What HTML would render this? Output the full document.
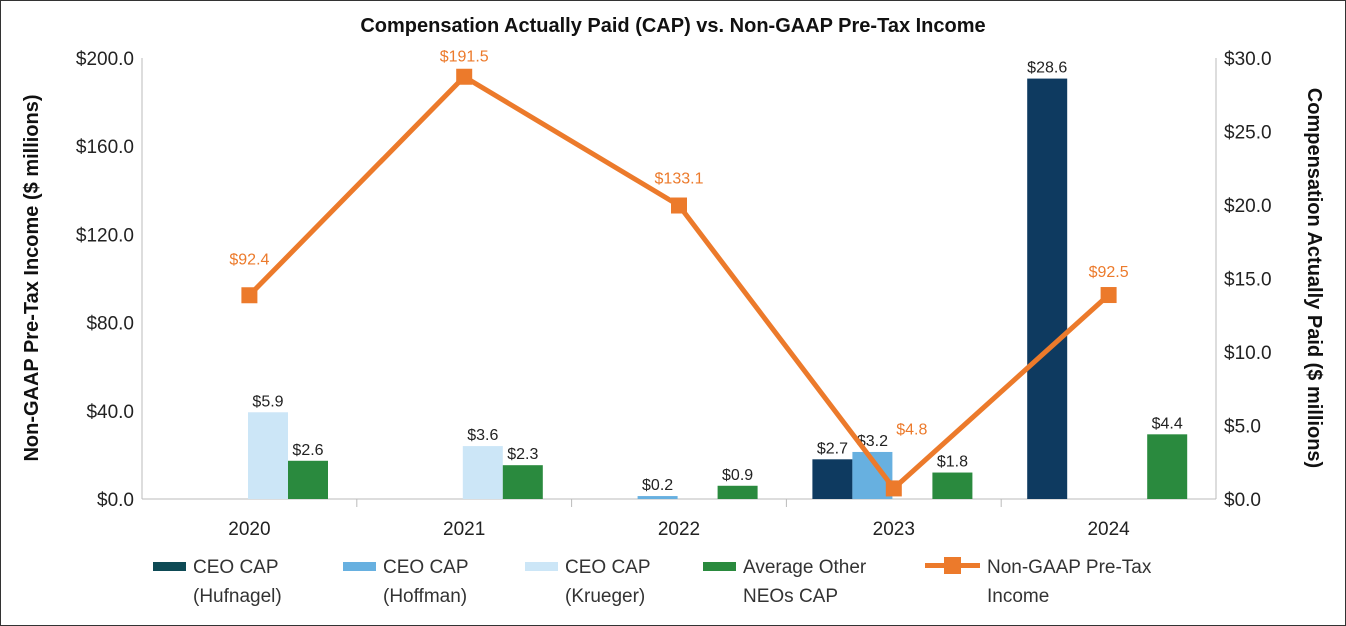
<!DOCTYPE html>
<html><head><meta charset="utf-8"><style>
body{margin:0;background:#fff;}
svg{display:block;font-family:"Liberation Sans",sans-serif;}
</style></head><body>
<svg id="chart" width="1346" height="626" viewBox="0 0 1346 626">
<rect x="0.5" y="0.5" width="1345" height="625" fill="#fff" stroke="#333" stroke-width="1"/>
<text x="673" y="32" text-anchor="middle" font-size="20" font-weight="bold" fill="#111">Compensation Actually Paid (CAP) vs. Non-GAAP Pre-Tax Income</text>
<text transform="translate(38,278) rotate(-90)" text-anchor="middle" font-size="20" font-weight="bold" fill="#111">Non-GAAP Pre-Tax Income ($ millions)</text>
<text transform="translate(1308,278) rotate(90)" text-anchor="middle" font-size="20" font-weight="bold" fill="#111">Compensation Actually Paid ($ millions)</text>
<g id="axes"></g><g id="bars"></g><g id="line"></g>
<g id="legend"></g>
</svg>
<script>
const categories=["2020","2021","2022","2023","2024"];
const hufnagel=[null,null,null,2.7,28.6];
const hoffman=[null,null,0.2,3.2,null];
const krueger=[5.9,3.6,null,null,null];
const otherNeos=[2.6,2.3,0.9,1.8,4.4];
const income=[92.4,191.5,133.1,4.8,92.5];
const leftTicks=[0,40,80,120,160,200];
const rightTicks=[0,5,10,15,20,25,30];

const NS="http://www.w3.org/2000/svg";
const X0=142,X1=1216,Y0=499,Y1=58;
const catW=(X1-X0)/categories.length;
const yL=v=>Y0-(v/200)*(Y0-Y1);
const yR=v=>Y0-(v/30)*(Y0-Y1);
function mk(tag,attrs,parent,text){const e=document.createElementNS(NS,tag);for(const k in attrs)e.setAttribute(k,attrs[k]);if(text!==undefined)e.textContent=text;parent.appendChild(e);return e;}
const axes=document.getElementById('axes');
let e=mk('line',{x1:X0,y1:Y1,x2:X0,y2:Y0,stroke:'#bbb'},axes);


e=mk('line',{x1:X1,y1:Y1,x2:X1,y2:Y0,stroke:'#bbb'},axes);


e=mk('line',{x1:X0,y1:Y0,x2:X1,y2:Y0,stroke:'#bbb'},axes);


leftTicks.forEach(v=>{
  e=mk('text',{x:X0-8,y:yL(v)+7,'text-anchor':'end','font-size':19,fill:'#222'},axes,'$'+v.toFixed(1));
  
  
});
rightTicks.forEach(v=>{
  e=mk('text',{x:X1+8,y:yR(v)+7,'text-anchor':'start','font-size':19,fill:'#222'},axes,'$'+v.toFixed(1));
  
  
});
categories.forEach((c,i)=>{
  if(i>0){e=mk('line',{x1:X0+i*catW,y1:Y0,x2:X0+i*catW,y2:Y0+8,stroke:'#bbb'},axes);
  
  }
  e=mk('text',{x:X0+(i+0.5)*catW,y:Y0+36,'text-anchor':'middle','font-size':19,fill:'#222'},axes,c);
  
  
});
const series=[[hufnagel,'#0e3a60','bar-hufnagel'],[hoffman,'#67b0e0','bar-hoffman'],[krueger,'#cce6f7','bar-krueger'],[otherNeos,'#2a8a3e','bar-other-neos']];
const bars=document.getElementById('bars');
const bw=40,off=26;
series.forEach(([arr,col,name],s)=>{
  arr.forEach((v,i)=>{
    if(v===null)return;
    const x=X0+i*catW+off+s*bw;
    e=mk('rect',{x:x,y:yR(v),width:bw,height:Y0-yR(v),fill:col},bars);
    
    
    e=mk('text',{x:x+bw/2,y:yR(v)-6,'text-anchor':'middle','font-size':16,fill:'#222'},bars,'$'+v.toFixed(1));
    
    
  });
});
const line=document.getElementById('line');
const labelDy=[-31,-15,-22,-54,-18];
const labelDx=[0,0,0,18,0];
const pts=income.map((v,i)=>[X0+(i+0.5)*catW,yL(v)]);
e=mk('polyline',{points:pts.map(p=>p.join(',')).join(' '),fill:'none',stroke:'#ec7a2b','stroke-width':5,'stroke-linejoin':'round'},line);


pts.forEach((p,i)=>{
  e=mk('rect',{x:p[0]-8,y:p[1]-8,width:16,height:16,fill:'#ec7a2b'},line);
  
  
  e=mk('text',{x:p[0]+labelDx[i],y:p[1]+labelDy[i],'text-anchor':'middle','font-size':16,fill:'#ec7a2b'},line,'$'+income[i].toFixed(1));
  
  
});
const lg=document.getElementById('legend');
const items=[['#0e4a55','CEO CAP','(Hufnagel)',153,'rect'],['#67b0e0','CEO CAP','(Hoffman)',343,'rect'],['#cce6f7','CEO CAP','(Krueger)',525,'rect'],['#2a8a3e','Average Other','NEOs CAP',703,'rect'],['#ec7a2b','Non-GAAP Pre-Tax','Income',925,'line']];
items.forEach(([col,a,b,x,t])=>{
  if(t==='rect'){e=mk('rect',{x:x,y:562,width:33,height:9,fill:col},lg);}
  else{e=mk('g',{},lg);mk('rect',{x:x,y:563,width:55,height:5,fill:col},e);mk('rect',{x:x+19,y:557,width:17,height:17,fill:col},e);}
  
  
  const tx=x+(t==='rect'?40:62);
  e=mk('text',{x:tx,y:573,'font-size':19,fill:'#333'},lg,a);
  
  
  e=mk('text',{x:tx,y:602,'font-size':19,fill:'#333'},lg,b);
  
  
});
</script>
</body></html>
